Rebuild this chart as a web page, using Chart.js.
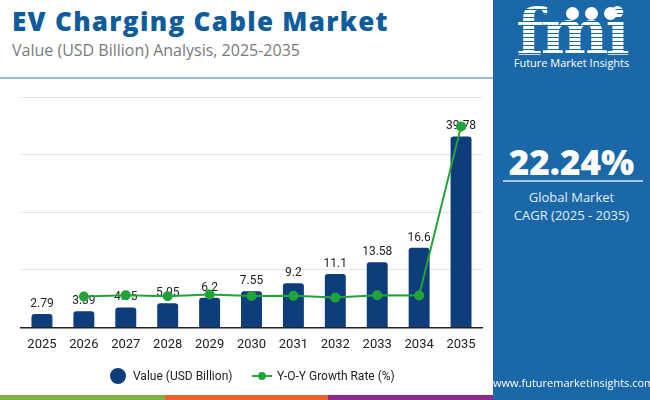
<!DOCTYPE html>
<html>
<head>
<meta charset="utf-8">
<script src="https://cdn.jsdelivr.net/npm/chart.js@4.4.1/dist/chart.umd.min.js"></script>
<style>
  html, body { margin: 0; padding: 0; }
  body { width: 650px; height: 400px; position: relative; overflow: hidden; background: #fff; font-family: Roboto, sans-serif; }
  #title { position: absolute; left: 12px; top: 3px; font: 800 26px "Open Sans", sans-serif; color: #0e5c9c; letter-spacing: 1.3px; white-space: nowrap; }
  #subtitle { position: absolute; left: 12px; top: 39px; font: 400 16px "Open Sans", sans-serif; color: #7a7a7a; white-space: nowrap; }
  #rule { position: absolute; left: 0; top: 77px; width: 493px; height: 2px; background: #9db7cc; }
  #wrap { position: absolute; left: 0; top: 85px; width: 490px; height: 282px; }
  #legend { position: absolute; top: 366px; left: 0; width: 490px; height: 20px; font: 12px Roboto, sans-serif; color: #222; }
  .lg { position: absolute; top: 3px; white-space: nowrap; }
  #strip { position: absolute; left: 0; top: 395px; height: 5px; width: 493px; display: flex; }
  #strip div { height: 100%; }
  #panel { position: absolute; left: 493px; top: 0; width: 157px; height: 400px; background: #1a68a7; color: #fff; text-align: center; }
  #fmi { position: absolute; left: 0; width: 157px; top: -6px; font: 900 64px "DejaVu Serif", serif; letter-spacing: -3px;
         background: repeating-linear-gradient(#fff 0 3px, #1a68a7 3px 4px); -webkit-background-clip: text; background-clip: text; color: transparent; }
  .dot { position: absolute; width: 13px; height: 13px; border-radius: 50%; background: #fff; top: 7px; }
  #fmitxt { position: absolute; top: 55px; left: 0; width: 157px; font: 11px "Open Sans", sans-serif; }
  #cagr { position: absolute; top: 138px; left: 0; width: 157px; font: 800 35px "Open Sans", sans-serif; }
  #cline { position: absolute; top: 180px; left: 10px; width: 140px; height: 2px; background: #a9c6e2; }
  #glob { position: absolute; top: 188px; left: 0; width: 157px; font: 13px "Open Sans", sans-serif; line-height: 18px; color: #e3edf7; }
  #web { position: absolute; top: 375px; left: 0; width: 157px; font: 11px "Open Sans", sans-serif; }
</style>
</head>
<body>
<div id="title">EV Charging Cable Market</div>
<div id="subtitle">Value (USD Billion) Analysis, 2025-2035</div>
<div id="rule"></div>
<div id="wrap"><canvas id="chart"></canvas></div>
<div id="legend">
  <span style="position:absolute;left:110px;top:2px;width:16px;height:16px;border-radius:50%;background:#0d3d7a;"></span>
  <span class="lg" style="left:133px;">Value (USD Billion)</span>
  <span style="position:absolute;left:252px;top:9px;width:20px;height:2px;background:#22a33a;"></span>
  <span style="position:absolute;left:258px;top:6px;width:8px;height:8px;border-radius:50%;background:#22a33a;"></span>
  <span class="lg" style="left:277px;">Y-O-Y Growth Rate (%)</span>
</div>
<div id="strip">
  <div style="width:165px;background:#7cb342;"></div>
  <div style="width:163px;background:#e8622c;"></div>
  <div style="width:165px;background:#8e2a8b;"></div>
</div>
<div id="panel">
  <div id="fmi">fmi</div>
  <div class="dot" style="left:73px;"></div>
  <div class="dot" style="left:92px;"></div>
  <div class="dot" style="left:111px;"></div>
  <div id="fmitxt">Future Market Insights</div>
  <div id="cagr">22.24%</div>
  <div id="cline"></div>
  <div id="glob">Global Market<br>CAGR (2025 - 2035)</div>
  <div id="web">www.futuremarketinsights.com</div>
</div>
<script>
// Data
const years = ["2025", "2026", "2027", "2028", "2029", "2030", "2031", "2032", "2033", "2034", "2035"];
const marketValue = [2.79, 3.39, 4.15, 5.05, 6.2, 7.55, 9.2, 11.1, 13.58, 16.6, 39.78];
const yoyGrowth = [null, 21.5, 22.4, 21.7, 22.8, 21.8, 21.9, 20.7, 22.3, 22.2, 139.6];
const valueTicks = [0, 12, 24, 36, 48];

// Value labels above the bars, drawn before the line so the points sit on top.
const barLabels = {
  id: "barLabels",
  afterDatasetDraw(chart, args) {
    if (args.index !== 0) return;
    const ctx = chart.ctx;
    ctx.save();
    ctx.font = "12px Roboto, sans-serif";
    ctx.fillStyle = "#222";
    ctx.textAlign = "center";
    ctx.textBaseline = "bottom";
    args.meta.data.forEach((bar, i) => {
      ctx.fillText(String(marketValue[i]), bar.x, bar.y - 4);
    });
    ctx.restore();
  }
};

new Chart(document.getElementById("chart"), {
  type: "bar",
  data: {
    labels: years,
    datasets: [
      {
        type: "bar",
        label: "Value (USD Billion)",
        data: marketValue,
        backgroundColor: "#0d3d7a",
        borderRadius: { topLeft: 3, topRight: 3 },
        borderSkipped: "bottom",
        barPercentage: 0.5,
        categoryPercentage: 1,
        yAxisID: "y",
        order: 2,
      },
      {
        type: "line",
        label: "Y-O-Y Growth Rate (%)",
        data: yoyGrowth,
        borderColor: "#22a33a",
        backgroundColor: "#22a33a",
        borderWidth: 2,
        pointRadius: 4,
        tension: 0,
        yAxisID: "y1",
        order: 1,
      },
    ],
  },
  options: {
    responsive: true,
    maintainAspectRatio: false,
    animation: false,
    layout: { padding: { left: 21, right: 8, top: 12, bottom: 4 } },
    plugins: { legend: { display: false }, tooltip: { enabled: false } },
    scales: {
      x: {
        grid: { display: false, drawTicks: false },
        border: { display: true, color: "#222", width: 1.5 },
        ticks: { color: "#222", font: { family: "Roboto", size: 13 }, padding: 10 },
      },
      y: {
        min: valueTicks[0],
        max: valueTicks[valueTicks.length - 1],
        afterBuildTicks: (axis) => { axis.ticks = valueTicks.map((v) => ({ value: v })); },
        grid: { color: "#e4e4e4", drawTicks: false },
        border: { display: false },
        ticks: { display: false },
      },
      y1: { min: 0, max: 160, display: false },
    },
  },
  plugins: [barLabels],
});
</script>
</body>
</html>
